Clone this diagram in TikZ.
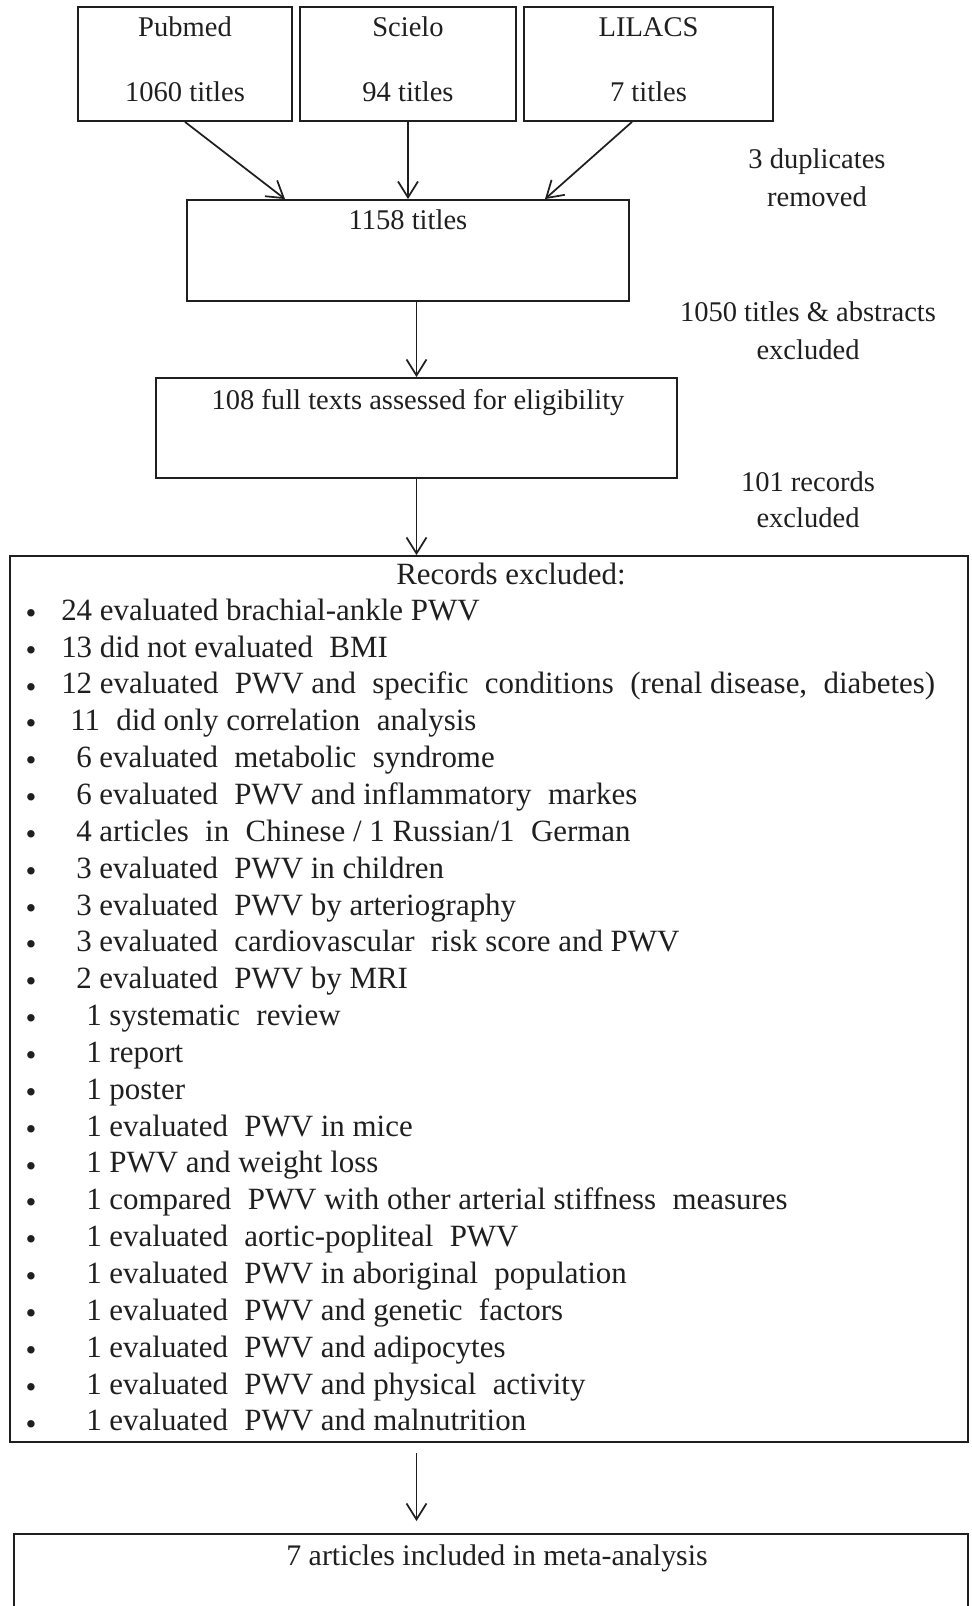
\documentclass[tikz,border=0pt]{standalone}
\usepackage{fontspec}
\setmainfont{Liberation Serif}
\usetikzlibrary{arrows.meta}
\newcommand{\wsp}{\hspace{0.28em}}
\newcommand{\recline}[4]{\node[bul] (b#1) at (31,#2) {•}; \node[lst] (l#1) at (#3,#2) {#4};}
\begin{document}
\begin{tikzpicture}[x=0.75pt, y=-0.75pt,
  box/.style={draw=black!88, line width=1.4pt, rectangle, inner sep=0pt},
  txt/.style={font=\fontsize{21.4pt}{26pt}\selectfont, inner sep=0pt, text height=0.68em, text depth=0.2em, text=black!88, yshift=-4.5pt},
  side/.style={font=\fontsize{21.4pt}{28.5pt}\selectfont, inner sep=0pt, align=center, text=black!88},
  lst/.style={font=\fontsize{23.2pt}{27pt}\selectfont, inner sep=0pt, anchor=west, text height=0.68em, text depth=0.2em, text=black!88, yshift=-4.5pt},
  bul/.style={font=\fontsize{23.2pt}{27pt}\selectfont, inner sep=0pt, text=black!88, yshift=-4pt},
  arr/.style={draw=black!88, line width=1.3pt, -{Straight Barb[length=12pt,width=15pt,line width=1.3pt]}}]
\useasboundingbox (0,0) rectangle (971,1606);

% source boxes
\node[box, minimum width=160.5pt, minimum height=85.5pt] (pubmed) at (185,64) {};
\node[box, minimum width=162pt, minimum height=85.5pt] (scielo) at (408,64) {};
\node[box, minimum width=186.75pt, minimum height=85.5pt] (lilacs) at (648.5,64) {};
\node[txt] (pubmedA) at (185,27) {Pubmed};
\node[txt] (pubmedB) at (185,92) {1060 titles};
\node[txt] (scieloA) at (408,27) {Scielo};
\node[txt] (scieloB) at (408,92) {94 titles};
\node[txt] (lilacsA) at (648.5,27) {LILACS};
\node[txt] (lilacsB) at (648.5,92) {7 titles};

% 1158 titles
\node[box, minimum width=331.5pt, minimum height=75.75pt] (t1158) at (408,250.5) {};
\node[txt] (t1158T) at (408,220) {1158 titles};

% 108 full texts
\node[box, minimum width=390.75pt, minimum height=75pt] (t108) at (416.5,428) {};
\node[txt] (t108T) at (418,400) {108 full texts assessed for eligibility};

% records excluded box
\node[box, minimum width=718.5pt, minimum height=664.5pt] (big) at (489,999) {};
\node[lst, anchor=center] (recT) at (511,575) {Records excluded:};
\recline{1}{611}{61}{24 evaluated brachial-ankle PWV}
\recline{2}{647.85}{61}{13 did not evaluated\wsp{} BMI}
\recline{3}{684.7}{61}{12 evaluated\wsp{} PWV and\wsp{} specific\wsp{} conditions\wsp{} (renal disease,\wsp{} diabetes)}
\recline{4}{721.55}{70}{11\wsp{} did only correlation\wsp{} analysis}
\recline{5}{758.4}{76}{6 evaluated\wsp{} metabolic\wsp{} syndrome}
\recline{6}{795.25}{76}{6 evaluated\wsp{} PWV and inflammatory\wsp{} markes}
\recline{7}{832.1}{76}{4 articles\wsp{} in\wsp{} Chinese / 1 Russian/1\wsp{} German}
\recline{8}{868.95}{76}{3 evaluated\wsp{} PWV in children}
\recline{9}{905.8}{76}{3 evaluated\wsp{} PWV by arteriography}
\recline{10}{942.65}{76}{3 evaluated\wsp{} cardiovascular\wsp{} risk score and PWV}
\recline{11}{979.5}{76}{2 evaluated\wsp{} PWV by MRI}
\recline{12}{1016.35}{86}{1 systematic\wsp{} review}
\recline{13}{1053.2}{86}{1 report}
\recline{14}{1090.05}{86}{1 poster}
\recline{15}{1126.9}{86}{1 evaluated\wsp{} PWV in mice}
\recline{16}{1163.75}{86}{1 PWV and weight loss}
\recline{17}{1200.6}{86}{1 compared\wsp{} PWV with other arterial stiffness\wsp{} measures}
\recline{18}{1237.45}{86}{1 evaluated\wsp{} aortic-popliteal\wsp{} PWV}
\recline{19}{1274.3}{86}{1 evaluated\wsp{} PWV in aboriginal\wsp{} population}
\recline{20}{1311.15}{86}{1 evaluated\wsp{} PWV and genetic\wsp{} factors}
\recline{21}{1348}{86}{1 evaluated\wsp{} PWV and adipocytes}
\recline{22}{1384.85}{86}{1 evaluated\wsp{} PWV and physical\wsp{} activity}
\recline{23}{1421.7}{86}{1 evaluated\wsp{} PWV and malnutrition}

% final box (runs off the bottom edge)
\node[box, minimum width=715.5pt, minimum height=79.5pt] (final) at (491,1587) {};
\node[lst, anchor=center, font=\fontsize{22.4pt}{27pt}\selectfont] (finalT) at (497,1556) {7 articles included in meta-analysis};

% side labels
\node[side] (dup) at (817,177.5) {3 duplicates\\removed};
\node[side] (exc1) at (808,331) {1050 titles \& abstracts\\excluded};
\node[side, font=\fontsize{21.4pt}{27pt}\selectfont] (exc2) at (808,500) {101 records\\excluded};

% connectors
\draw[arr] (pubmed.south) -- ([xshift=-92.25pt]t1158.north);
\draw[arr] (scielo.south) -- (t1158.north);
\draw[arr] ([xshift=-12.4pt]lilacs.south) -- ([xshift=102.75pt]t1158.north);
\draw[arr] (t108.north |- t1158.south) -- (t108.north);
\draw[arr] (t108.south) -- (t108.south |- big.north);
\draw[arr, shorten <=7.5pt, shorten >=9pt] (t108.south |- big.south) -- (t108.south |- final.north);
\end{tikzpicture}
\end{document}
